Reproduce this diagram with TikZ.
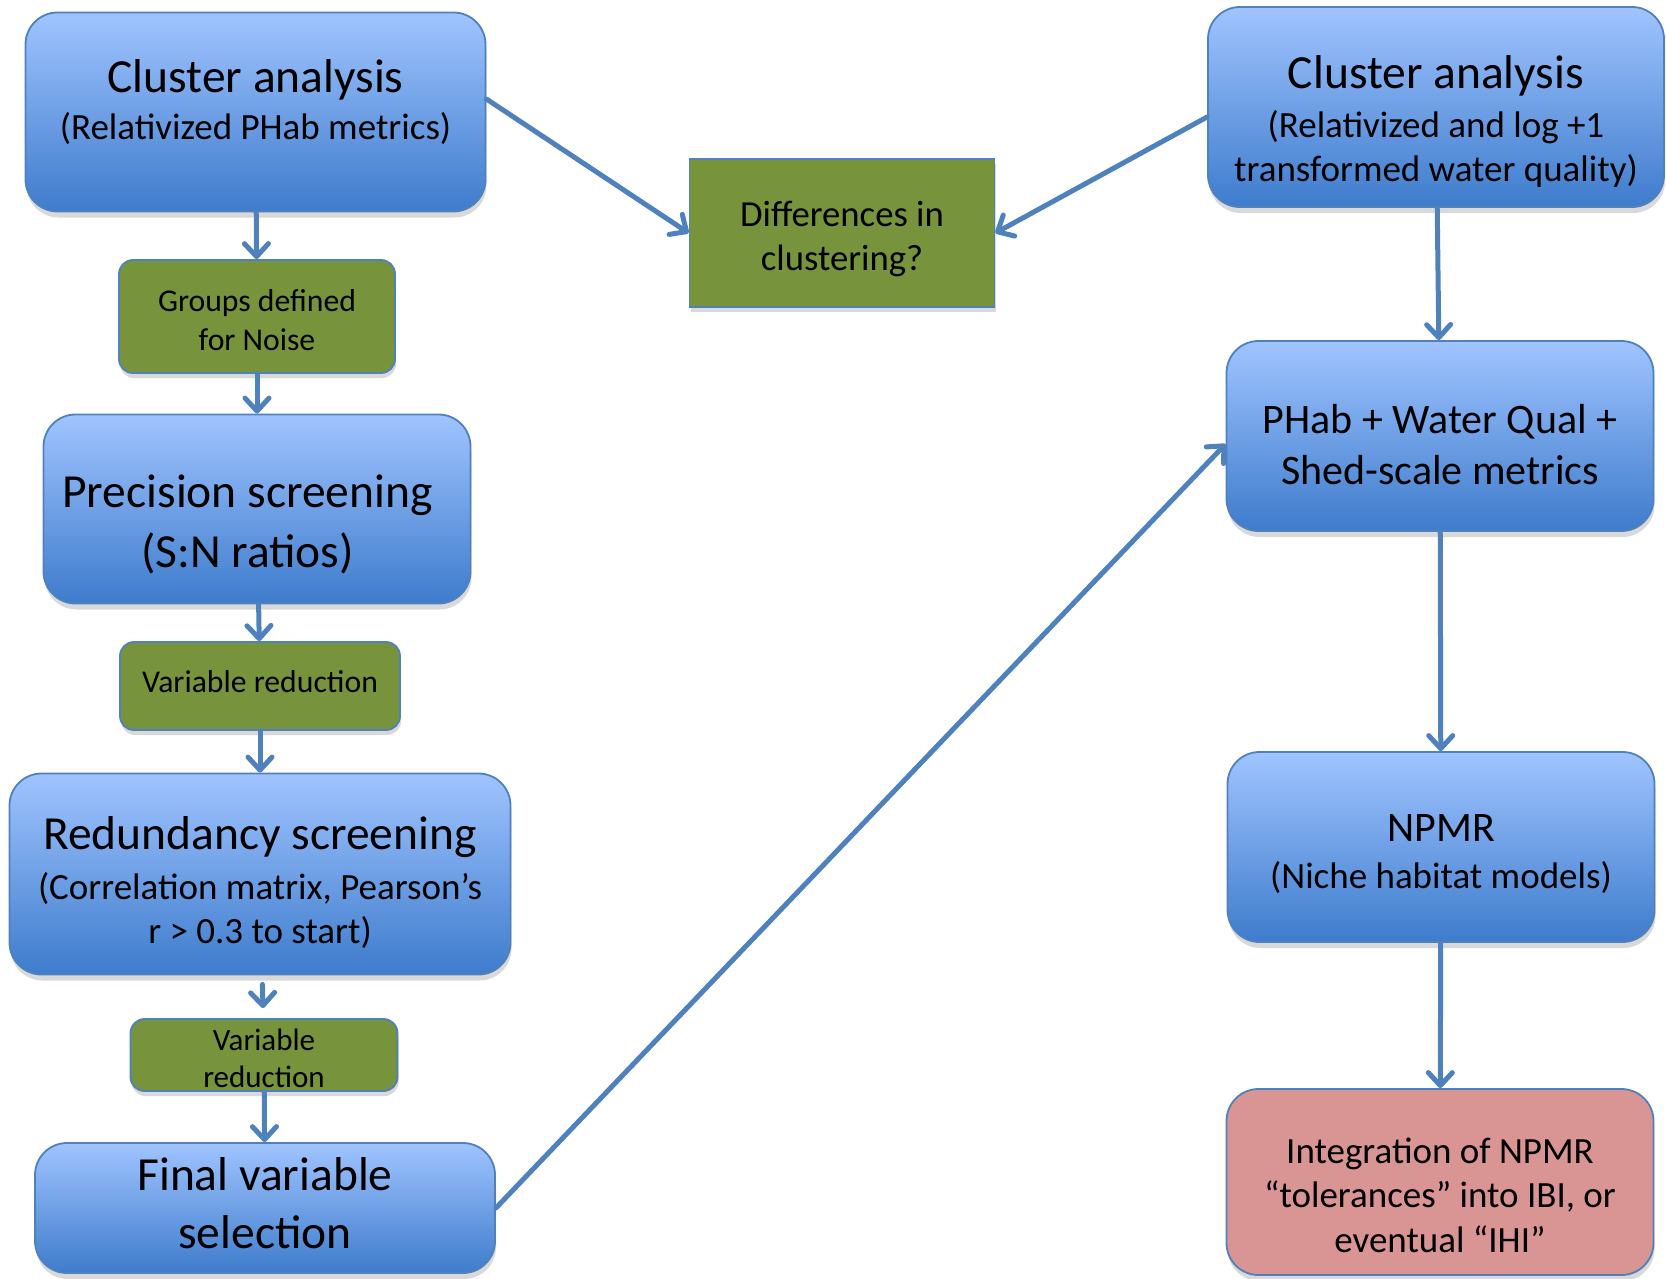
\documentclass[tikz,border=0pt]{standalone}
\usepackage{fontspec}
\setmainfont{Carlito}
\usepackage{xcolor}
\usepackage{tikz}
\usetikzlibrary{arrows.meta,shadows}

\definecolor{boxtop}{RGB}{160,196,255}
\definecolor{boxbot}{RGB}{62,124,204}
\definecolor{edgeblue}{RGB}{79,129,189}
\definecolor{boxgreen}{RGB}{119,147,60}
\definecolor{boxpink}{RGB}{217,149,148}

\begin{document}
\begin{tikzpicture}[x=1pt,y=-1pt,
		bluebox/.style={draw=edgeblue, line width=1.8pt, rounded corners=32pt,
			top color=boxtop, bottom color=boxbot, align=center, inner sep=0pt,
			font=\fontsize{37}{44}\selectfont,
			drop shadow={opacity=0.3, shadow xshift=1pt, shadow yshift=-6pt}},
		greenbox/.style={draw=edgeblue, line width=1.8pt, rounded corners=14pt,
			fill=boxgreen, align=center, inner sep=0pt,
			font=\fontsize{31.7}{39}\selectfont,
			drop shadow={opacity=0.3, shadow xshift=1pt, shadow yshift=-5pt}},
		flow/.style={draw=edgeblue, line width=5pt, line cap=round,
			-{Straight Barb[length=13pt,width=24pt,round]}}
	]
	\useasboundingbox (0,0) rectangle (1666,1279);
	
	% Left column
	\node[bluebox, minimum width=460pt, minimum height=199pt] (ca1) at (255.5,112)
		{{\fontsize{47.5}{57}\selectfont Cluster analysis}\\[3pt](Relativized PHab metrics)\rule[-25pt]{0pt}{0pt}};
	\node[greenbox, minimum width=276pt, minimum height=113pt] (grp) at (257,316.5)
		{\rule{0pt}{30pt}Groups defined\\for Noise};
	\node[bluebox, minimum width=427pt, minimum height=189pt, font=\fontsize{47.5}{60}\selectfont] (prec) at (257,509)
		{\rule{0pt}{64pt}Precision screening\hspace*{19pt}\\(S:N ratios)\hspace*{19pt}};
	\node[greenbox, minimum width=280pt, minimum height=88pt] (vr1) at (260,686)
		{Variable reduction\rule[-10pt]{0pt}{0pt}};
	\node[bluebox, minimum width=501pt, minimum height=201pt] (red) at (260,874)
		{{\fontsize{47.5}{57}\selectfont\rule{0pt}{50pt}Redundancy screening}\\[6pt](Correlation matrix, Pearson’s\\r > 0.3 to start)};
	\node[greenbox, minimum width=267pt, minimum height=72pt, font=\fontsize{31}{37}\selectfont] (vr2) at (264,1055)
		{\rule{0pt}{29pt}Variable\\reduction};
	\node[bluebox, minimum width=460pt, minimum height=130pt, font=\fontsize{47.5}{58}\selectfont] (fin) at (265,1208)
		{Final variable\\selection\rule[-10pt]{0pt}{0pt}};
	
	% Middle
	\node[greenbox, rounded corners=0pt, minimum width=305pt, minimum height=148pt,
		font=\fontsize{36.7}{44}\selectfont] (diff) at (842,233)
		{\rule{0pt}{38pt}Differences in\\clustering?};
	
	% Right column
	\node[bluebox, minimum width=456pt, minimum height=200pt] (ca2) at (1436,107)
		{{\fontsize{47.5}{57}\selectfont\rule{0pt}{62pt}Cluster analysis}\\[5pt](Relativized and log +1\\transformed water quality)};
	\node[bluebox, minimum width=427pt, minimum height=190pt, font=\fontsize{42}{51}\selectfont] (phab) at (1440,436)
		{\rule{0pt}{46pt}PHab + Water Qual +\\Shed-scale metrics};
	\node[bluebox, minimum width=427pt, minimum height=190pt] (npmr) at (1441,847)
		{{\fontsize{42}{50}\selectfont\rule{0pt}{42pt}NPMR}\\[3pt](Niche habitat models)};
	\node[bluebox, top color=boxpink, bottom color=boxpink, minimum width=427pt, minimum height=186pt,
		font=\fontsize{37}{44.6}\selectfont] (intg) at (1440,1182)
		{\rule{0pt}{52pt}Integration of NPMR\\“tolerances” into IBI, or\\eventual “IHI”};
	
	% Arrows
	\draw[flow] (ca1) -- (grp);
	\draw[flow] (grp) -- (prec);
	\draw[flow] (prec) -- (vr1);
	\draw[flow] (vr1) -- (red);
	\draw[flow, shorten <=9pt, shorten >=10pt] (red) -- (vr2);
	\draw[flow] (vr2) -- (fin);
	\draw[flow] ([yshift=13pt]ca1.east) -- (diff.west);
	\draw[flow] ([yshift=-10pt]ca2.west) -- (diff.east);
	\draw[flow] (ca2) -- (phab);
	\draw[flow] (phab) -- (npmr);
	\draw[flow] (npmr) -- (intg);
	\draw[flow] (fin.east) -- ([yshift=-8pt]phab.west);
	
\end{tikzpicture}
\end{document}
